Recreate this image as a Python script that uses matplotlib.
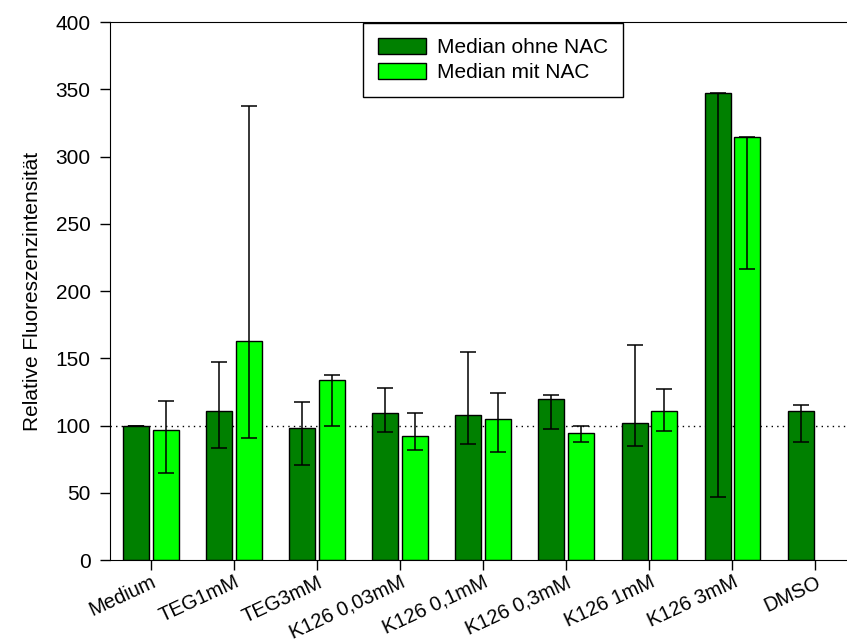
import matplotlib.pyplot as plt
import numpy as np

plt.rcParams['font.family'] = ['Liberation Sans', 'DejaVu Sans']

categories = ['Medium', 'TEG1mM', 'TEG3mM', 'K126 0,03mM', 'K126 0,1mM',
              'K126 0,3mM', 'K126 1mM', 'K126 3mM', 'DMSO']

# Median ohne NAC
ohne = [100, 111, 98, 109, 107.5, 120, 102, 347, 110.5]
ohne_lo = [100, 83, 71, 95.5, 86, 97.5, 85, 47, 88]
ohne_hi = [100, 147.5, 117.5, 128, 155, 123, 159.5, 347, 115]

# Median mit NAC (no DMSO value)
mit = [96.5, 162.5, 133.5, 92, 104.5, 94.5, 111, 314.5, np.nan]
mit_lo = [65, 91, 100, 82, 80, 87.5, 96, 216, np.nan]
mit_hi = [118.5, 337.5, 137.5, 109.5, 124.5, 99.5, 127.5, 314.5, np.nan]

x = np.arange(len(categories))
w = 0.313
off = 0.177

fig = plt.figure(figsize=(8.47, 6.42), dpi=100)
ax = fig.add_axes([0.130, 0.1277, 0.870, 0.838])

ax.bar(x - off, ohne, w, color='#008000', edgecolor='black', linewidth=1,
       label='Median ohne NAC', zorder=2)
ax.bar(x + off, mit, w, color='#00ff00', edgecolor='black', linewidth=1,
       label='Median mit NAC', zorder=2)

ohne = np.array(ohne)
mit = np.array(mit)
ax.errorbar(x - off, ohne, yerr=[ohne - np.array(ohne_lo), np.array(ohne_hi) - ohne],
            fmt='none', ecolor='black', elinewidth=1.1, capsize=5.8, capthick=1.1, zorder=3)
ax.errorbar(x + off, mit, yerr=[mit - np.array(mit_lo), np.array(mit_hi) - mit],
            fmt='none', ecolor='black', elinewidth=1.1, capsize=5.8, capthick=1.1, zorder=3)

ax.axhline(100, color='black', linestyle=(0, (1, 3)), linewidth=1, zorder=1)

ax.set_xlim(-0.49, 8.38)
ax.set_ylim(0, 400)
ax.set_yticks(np.arange(0, 401, 50))
ax.set_xticks(x)
ax.set_xticklabels(categories, rotation=25, ha='right', rotation_mode='anchor')
ax.tick_params(axis='both', direction='out', length=7, width=1, labelsize=15)
ax.tick_params(axis='y', pad=7)
ax.tick_params(axis='x', pad=2, labelsize=14.5)
ax.spines['right'].set_visible(False)
ax.set_ylabel('Relative Fluoreszenzintensität', fontsize=15, labelpad=10)

leg = ax.legend(loc='upper left', bbox_to_anchor=(0.343, 0.998), borderaxespad=0,
                fontsize=15, handlelength=2.3, handleheight=0.77, handletextpad=0.54,
                labelspacing=0.3, borderpad=0.72, fancybox=False, framealpha=1)
leg.get_frame().set_edgecolor('black')
leg.get_frame().set_linewidth(1)

plt.savefig('out.png', dpi=100)
